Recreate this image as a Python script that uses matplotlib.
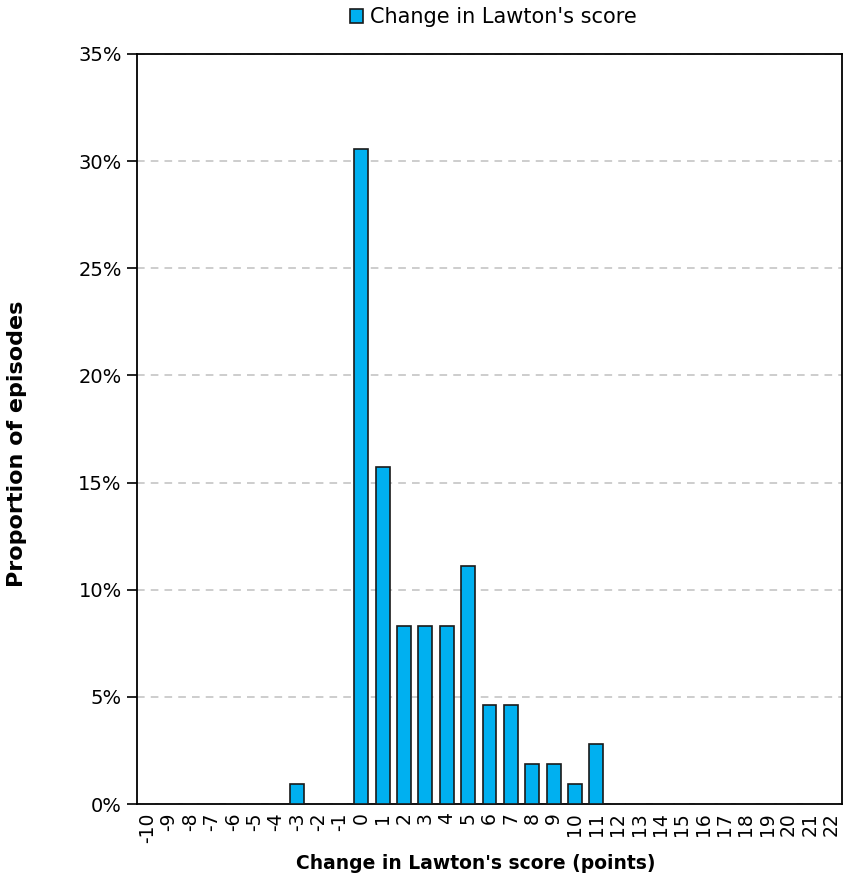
import matplotlib
matplotlib.use("Agg")
import matplotlib.pyplot as plt
from matplotlib.ticker import FuncFormatter

categories = list(range(-10, 23))
values = [0, 0, 0, 0, 0, 0, 0, 0.93, 0, 0,
          30.56, 15.74, 8.33, 8.33, 8.33, 11.11, 4.63, 4.63, 1.85, 1.85, 0.93, 2.78,
          0, 0, 0, 0, 0, 0, 0, 0, 0, 0, 0]
series_name = "Change in Lawton's score"
y_ticks = [0, 5, 10, 15, 20, 25, 30, 35]

plt.rcParams['font.family'] = ['DejaVu Sans']
fig = plt.figure(figsize=(8.46, 8.80), dpi=100)
ax = fig.add_axes([137/846, 76/880, (842-137)/846, (804-54)/880])

x = list(range(len(categories)))
ax.bar(x, values, width=0.65, color='#00B0F0', edgecolor='#1a1a1a', linewidth=1.2,
       label=series_name, zorder=3)

ax.set_xlim(-0.5, len(categories) - 0.5)
ax.set_ylim(0, 35)
ax.set_yticks(y_ticks)
ax.yaxis.set_major_formatter(FuncFormatter(lambda v, p: f"{int(v)}%"))
ax.set_xticks(x)
ax.set_xticklabels([str(c) for c in categories], rotation=90, fontsize=13.5)
ax.tick_params(axis='x', length=0, pad=6)
ax.tick_params(axis='y', length=7, width=1.2, labelsize=14, pad=4)
for s in ax.spines.values():
    s.set_linewidth(1.3)
    s.set_color('black')

ax.yaxis.grid(True, linestyle=(0, (5, 4)), color='#c0c0c0', linewidth=1.1, zorder=0)
ax.set_axisbelow(True)

ax.set_ylabel("Proportion of episodes", fontsize=16, fontweight='bold')
ax.yaxis.set_label_coords(-0.156, 0.48)
ax.set_xlabel("Change in Lawton's score (points)", fontsize=13.5, fontweight='bold')
ax.xaxis.set_label_coords(0.481, -0.066)

leg = fig.legend(loc='upper center', bbox_to_anchor=(0.583, 1.013), frameon=False,
                 fontsize=15, handlelength=0.65, handleheight=0.65, handletextpad=0.3)

fig.savefig("out.png", dpi=100)
